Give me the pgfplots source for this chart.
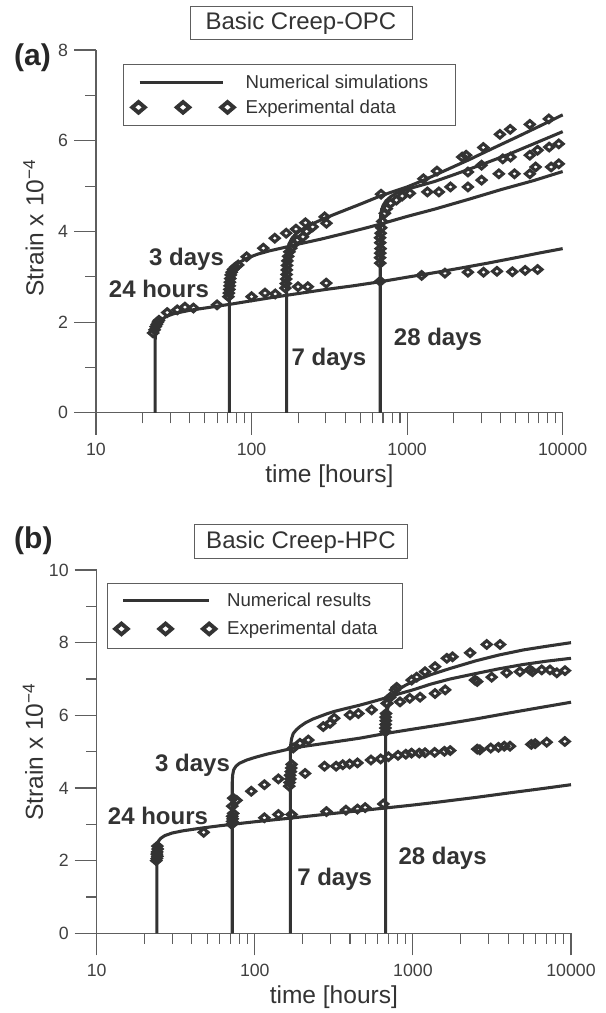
\documentclass[border=0pt]{standalone}
\usepackage{fontspec}
\setmainfont{Liberation Sans}
\usepackage{pgfplots}
\pgfplotsset{compat=1.18}
\pgfplotsset{major tick length=16.5pt, minor tick length=8pt}
\definecolor{ink}{HTML}{333333}
\definecolor{axgray}{HTML}{5E5E5E}
\definecolor{tickgray}{HTML}{404040}
\pgfdeclareplotmark{wdiamond}{%
  \pgfpathmoveto{\pgfqpoint{\pgfplotmarksize}{0pt}}%
  \pgfpathlineto{\pgfqpoint{0pt}{0.85\pgfplotmarksize}}%
  \pgfpathlineto{\pgfqpoint{-\pgfplotmarksize}{0pt}}%
  \pgfpathlineto{\pgfqpoint{0pt}{-0.85\pgfplotmarksize}}%
  \pgfpathclose
  \pgfusepathqstroke}
\tikzset{simline/.style={draw=ink, line width=2.3pt, line join=round},
  expdata/.style={draw=ink, only marks, mark=wdiamond, mark size=3.3pt,
    mark options={draw=ink, line width=2.3pt}}}
\newcommand\tickfont{\fontsize{13.3}{15}\selectfont}
\newcommand\labfont{\fontsize{18.4}{21}\selectfont}
\newcommand\legfont{\fontsize{14}{16}\selectfont}
\begin{document}
\begin{tikzpicture}
\path[use as bounding box] (0,0) rectangle (454.5pt,759.75pt);
% ---------------- panel (a)
\begin{axis}[scale only axis, xmode=log, xmin=10, xmax=10000, ymin=0, ymax=8,
  at={(72pt,450.15pt)}, anchor=south west, width=350pt, height=272.1pt,
  axis x line=bottom, axis y line=left,
  axis line style={-, draw=axgray, line width=0.8pt},
  tick align=outside, /pgfplots/major tick length=16.5pt, /pgfplots/minor tick length=8pt,
  tick style={draw=axgray, line width=0.8pt},
  xtick={10,100,1000,10000}, xticklabels={10,100,1000,10000},
  minor xtick={20,30,40,50,60,70,80,90,200,300,400,500,600,700,800,900,2000,3000,4000,5000,6000,7000,8000,9000},
  ytick={0,2,4,6,8}, yticklabels={0,2,4,6,8}, minor ytick={1,3,5,7},
  ticklabel style={font=\tickfont, text=tickgray},
  xticklabel shift=3pt, yticklabel shift=1pt,
  /pgf/number format/assume math mode=true,
  clip=false,
  xlabel={time [hours]}, ylabel={Strain x 10\textsuperscript{−4}},
  xlabel style={font=\labfont, text=ink, anchor=center, at={(axis description cs:0.5,-0.1742)}},
  ylabel style={font=\labfont, text=ink, anchor=center, at={(axis description cs:-0.134,0.509)}},
  legend cell align=left,
  legend style={draw=none, fill=none, inner sep=0pt, anchor=north west,
    font=\legfont, text=ink, at={(axis description cs:0.0771,0.9397)}, row sep=2.95pt},
  ]
\addlegendimage{legend image code/.code={\path[draw=none] (0pt,0pt) -- (78.3pt,0pt); \draw[ink, line width=2.3pt] (0.75pt,0pt) -- (63pt,0pt);}}
\addlegendentry{Numerical simulations}
\addlegendimage{legend image code/.code={\path[draw=none] (0pt,0pt) -- (78.3pt,0pt); \draw[ink, line width=2.9pt] plot[mark=wdiamond, mark size=4.7pt, only marks] coordinates {(0pt,0pt) (33.4pt,0pt) (66.75pt,0pt)};}}
\addlegendentry{Experimental data}
\draw[axgray, line width=0.75pt] (axis description cs:0.0579,0.7919) rectangle (axis description cs:0.7705,0.9598);
% simulations
\addplot[simline, forget plot] coordinates {(24,0) (24,1.6) (24.2,1.75) (24.6,1.88) (25.3,1.98) (26.5,2.06) (28.5,2.13) (32,2.19) (40,2.26) (55,2.33) (75,2.4) (100,2.47) (140,2.55) (200,2.63) (300,2.72) (450,2.8) (672,2.89) (1000,2.99) (1500,3.09) (2200,3.19) (3300,3.3) (5000,3.42) (7000,3.52) (10000,3.62)};
\addplot[simline, forget plot] coordinates {(72,0) (72,2.75) (72.3,2.92) (73,3.04) (74.5,3.14) (77,3.22) (81,3.29) (87,3.35) (95,3.42) (110,3.5) (130,3.57) (160,3.64) (200,3.72) (280,3.83) (400,3.96) (550,4.08) (672,4.16) (1000,4.33) (1500,4.49) (2500,4.71) (4000,4.92) (6500,5.12) (10000,5.32)};
\addplot[simline, forget plot] coordinates {(168,0) (168,3.35) (169,3.5) (171,3.62) (175,3.74) (182,3.85) (192,3.94) (210,4.04) (240,4.15) (300,4.3) (400,4.47) (500,4.6) (672,4.78) (850,4.9) (1000,4.98) (1300,5.14) (1800,5.36) (2500,5.58) (3500,5.82) (5000,6.07) (7000,6.31) (10000,6.57)};
\addplot[simline, forget plot] coordinates {(672,0) (672,4.18) (676,4.35) (685,4.47) (700,4.57) (730,4.67) (780,4.76) (850,4.84) (950,4.9) (1100,4.97) (1500,5.1) (2000,5.25) (3000,5.47) (4500,5.7) (6500,5.93) (10000,6.2)};
% experimental data
\addplot[expdata, forget plot] coordinates {(23.3,1.76) (23.8,1.83) (24.2,1.9) (24.6,1.95) (25.0,2.0) (25.4,2.04) (28.7,2.21) (33.3,2.27) (37.3,2.33) (42.3,2.31) (60,2.38) (100,2.56) (122,2.64) (142,2.62) (199,2.78) (230,2.78) (302,2.86) (672,2.9) (1240,3.03) (1750,3.08) (2460,3.1) (3100,3.1) (3780,3.12) (4750,3.11) (5740,3.14) (6900,3.16)};
\addplot[expdata, forget plot] coordinates {(71,2.56) (71.5,2.64) (72,2.72) (72.3,2.8) (72.6,2.88) (73,2.96) (73.5,3.04) (74.5,3.1) (76,3.16) (78.5,3.21) (82,3.26) (93,3.44) (119,3.63) (141,3.85) (167,3.96) (193,4.05) (222,4.19) (247,4.1) (295,4.32) (303,4.18)};
\addplot[expdata, forget plot] coordinates {(165,2.75) (166,2.85) (167,2.95) (168,3.05) (168.5,3.15) (169,3.25) (170,3.35) (172,3.45) (175,3.55) (180,3.63) (187,3.72) (196,3.8) (214,3.88) (226,4.0) (680,4.82) (1273,5.16) (1556,5.33) (2260,5.64) (2395,5.68) (3090,5.85) (3950,6.14) (4600,6.25) (6150,6.36) (8150,6.48)};
\addplot[expdata, forget plot] coordinates {(672,3.3) (670,3.42) (672,3.52) (675,3.62) (672,3.75) (670,3.86) (676,3.96) (682,4.08) (692,4.22) (720,4.4) (740,4.5) (783,4.62) (853,4.69) (930,4.78) (1042,4.84) (1350,4.87) (1600,4.87) (1900,4.98)};
\addplot[expdata, forget plot] coordinates {(2460,5.31) (3010,5.46) (4120,5.6) (4620,5.64) (6150,5.68) (6900,5.79) (8190,5.86) (9440,5.93)};
\addplot[expdata, forget plot] coordinates {(2460,4.98) (3010,5.13) (3890,5.27) (4900,5.27) (6150,5.27) (6700,5.42) (8430,5.42) (9440,5.49)};
\end{axis}
% ---------------- panel (b)
\begin{axis}[scale only axis, xmode=log, xmin=10, xmax=10000, ymin=0, ymax=10,
  at={(72.525pt,59.775pt)}, anchor=south west, width=355.725pt, height=272.475pt,
  axis x line=bottom, axis y line=left,
  axis line style={-, draw=axgray, line width=0.8pt},
  tick align=outside, /pgfplots/major tick length=16.5pt, /pgfplots/minor tick length=8pt,
  tick style={draw=axgray, line width=0.8pt},
  xtick={10,100,1000,10000}, xticklabels={10,100,1000,10000},
  minor xtick={20,30,40,50,60,70,80,90,200,300,400,500,600,700,800,900,2000,3000,4000,5000,6000,7000,8000,9000},
  ytick={0,2,4,6,8,10}, yticklabels={0,2,4,6,8,10}, minor ytick={1,3,5,7,9},
  ticklabel style={font=\tickfont, text=tickgray},
  xticklabel shift=3pt, yticklabel shift=1pt,
  /pgf/number format/assume math mode=true,
  clip=false,
  xlabel={time [hours]}, ylabel={Strain x 10\textsuperscript{−4}},
  xlabel style={font=\labfont, text=ink, anchor=center, at={(axis description cs:0.5,-0.1753)}},
  ylabel style={font=\labfont, text=ink, anchor=center, at={(axis description cs:-0.1343,0.499)}},
  legend cell align=left,
  legend style={draw=none, fill=none, inner sep=0pt, anchor=north west,
    font=\legfont, text=ink, at={(axis description cs:0.0384,0.946)}, row sep=5.8pt},
  ]
\addlegendimage{legend image code/.code={\path[draw=none] (0pt,0pt) -- (77.2pt,0pt); \draw[ink, line width=2.3pt] (1.2pt,0pt) -- (65.8pt,0pt);}}
\addlegendentry{Numerical results}
\addlegendimage{legend image code/.code={\path[draw=none] (0pt,0pt) -- (77.2pt,0pt); \draw[ink, line width=2.9pt] plot[mark=wdiamond, mark size=4.7pt, only marks] coordinates {(0pt,0pt) (33.1pt,0pt) (65.8pt,0pt)};}}
\addlegendentry{Experimental data}
\draw[axgray, line width=0.75pt] (axis description cs:0.0226,0.7834) rectangle (axis description cs:0.6447,0.962);
\addplot[simline, forget plot] coordinates {(24,0) (24,2.3) (24.2,2.45) (24.7,2.55) (25.5,2.62) (27,2.69) (30,2.76) (35,2.82) (45,2.89) (60,2.96) (72,3.0) (100,3.07) (168,3.17) (300,3.29) (450,3.37) (672,3.45) (1000,3.53) (1500,3.62) (2500,3.74) (4000,3.86) (6500,3.98) (10000,4.09)};
\addplot[simline, forget plot] coordinates {(72,0) (72,4.15) (72.4,4.35) (73.5,4.5) (76,4.6) (80,4.68) (89,4.77) (100,4.84) (119,4.93) (140,5.0) (168,5.08) (200,5.14) (250,5.2) (460,5.37) (672,5.5) (1000,5.62) (1500,5.74) (2500,5.9) (4000,6.06) (6500,6.22) (10000,6.36)};
\addplot[simline, forget plot] coordinates {(168,0) (168,5.08) (169,5.22) (171,5.36) (175,5.5) (183,5.6) (193,5.69) (210,5.8) (234,5.9) (285,6.04) (314,6.1) (363,6.17) (462,6.28) (560,6.38) (650,6.46) (829,6.6) (1000,6.7) (1300,6.86) (1720,7.0) (2500,7.15) (3500,7.28) (5000,7.4) (7000,7.49) (10000,7.57)};
\addplot[simline, forget plot] coordinates {(672,0) (672,5.5) (675,5.75) (680,5.95) (690,6.15) (705,6.32) (730,6.48) (770,6.62) (830,6.74) (900,6.83) (1000,6.93) (1300,7.12) (1720,7.29) (2500,7.5) (3500,7.66) (5000,7.8) (7000,7.9) (10000,8.0)};
\addplot[expdata, forget plot] coordinates {(23.8,2.0) (24,2.06) (24.2,2.12) (24,2.18) (24.1,2.24) (24.3,2.32) (24.2,2.4) (47.5,2.78) (71.5,3.0) (72,3.08) (72.5,3.15) (72,3.22) (73,3.3) (115,3.18) (141,3.27) (171,3.27) (284,3.35) (377,3.39) (446,3.42) (499,3.46) (650,3.56)};
\addplot[expdata, forget plot] coordinates {(72,3.5) (73,3.72) (76.6,3.66) (95,3.91) (115,4.09) (141,4.25) (208,4.4) (276,4.6) (327,4.6) (360,4.64) (398,4.66) (446,4.69) (543,4.77) (625,4.8) (700,4.86) (805,4.9) (902,4.93) (980,4.96) (1097,4.96) (1193,4.97) (1373,4.98) (1583,5.01) (1722,5.03) (2552,5.07) (2650,5.05) (3107,5.1) (3475,5.12) (3783,5.15) (4114,5.15) (5610,5.2) (5933,5.22) (7020,5.26) (9140,5.28)};
\addplot[expdata, forget plot] coordinates {(165,4.05) (166,4.15) (168,4.25) (167,4.35) (169,4.45) (170,4.55) (171,4.65) (175,5.1) (193,5.23) (218,5.32) (271,5.69) (299,5.78) (318,5.92) (400,6.01) (452,6.05) (548,6.15) (683,6.33) (829,6.37) (955,6.47) (1110,6.5) (1380,6.6) (1600,6.7) (2470,6.97) (2550,6.93) (3150,7.05) (3920,7.17) (4750,7.2) (5500,7.25) (5700,7.2) (6530,7.25) (7360,7.25) (8130,7.17) (9160,7.23)};
\addplot[expdata, forget plot] coordinates {(672,5.55) (670,5.65) (672,5.75) (674,5.85) (672,5.95) (676,6.05) (690,6.33) (720,6.5) (771,6.7) (790,6.77) (982,6.97) (1057,7.05) (1193,7.2) (1380,7.34) (1640,7.57) (1780,7.61) (2300,7.72) (2930,7.95) (3560,7.95)};
\end{axis}
% ---------------- titles, panel letters, annotations
\node[draw=axgray, line width=0.75pt, minimum width=166.5pt, minimum height=24.75pt, inner sep=0pt,
  font=\fontsize{18}{20}\selectfont, text=ink] at (225.75pt,742.2pt) {Basic Creep-OPC};
\node[draw=axgray, line width=0.75pt, minimum width=159.75pt, minimum height=25.5pt, inner sep=0pt,
  font=\fontsize{18}{20}\selectfont, text=ink] at (225.7pt,353.25pt) {Basic Creep-HPC};
\node[font=\bfseries\fontsize{22.5}{24}\selectfont, text=black!85, anchor=base, inner sep=0pt] at (24.4pt,710.8pt) {(a)};
\node[font=\bfseries\fontsize{22.5}{24}\selectfont, text=black!85, anchor=base, inner sep=0pt] at (25pt,348.3pt) {(b)};
\begin{scope}[every node/.style={font=\bfseries\fontsize{18}{20}\selectfont, text=ink, anchor=base, inner sep=0pt}]
\node at (139.9pt,560.25pt) {3 days};
\node at (119.25pt,536.6pt) {24 hours};
\node at (246.75pt,485.25pt) {7 days};
\node at (328.5pt,500.25pt) {28 days};
\node at (144.4pt,181pt) {3 days};
\node at (118.5pt,141.5pt) {24 hours};
\node at (251pt,95.25pt) {7 days};
\node at (332pt,111.5pt) {28 days};
\end{scope}
\end{tikzpicture}
\end{document}
